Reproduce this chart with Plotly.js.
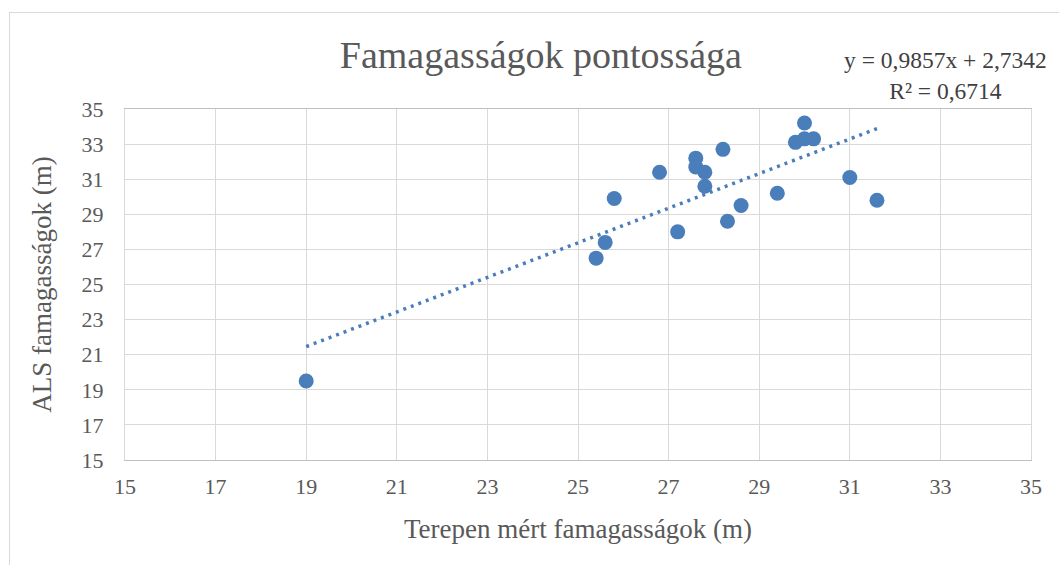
<!DOCTYPE html>
<html>
<head>
<meta charset="utf-8">
<script src="https://cdn.plot.ly/plotly-3.0.1.min.js"></script>
<style>
  html, body { margin: 0; padding: 0; background: #ffffff; }
  #frame { position: absolute; left: 9px; top: 12px; width: 1100px; height: 600px; border: 1px solid #d9d9d9; box-sizing: border-box; }
  #chart { position: absolute; left: 0; top: 0; width: 1059px; height: 565px; }
</style>
</head>
<body>
<div id="frame"></div>
<div id="chart"></div>
<script>
// Data
const terepenMert = [19.0, 25.4, 25.6, 25.8, 26.8, 27.2, 27.6, 27.6, 27.8, 27.8, 28.2, 28.3, 28.6, 29.4, 29.8, 30.0, 30.2, 30.0, 31.0, 31.6];
const alsMagassag = [19.5, 26.5, 27.4, 29.9, 31.4, 28.0, 32.2, 31.7, 31.4, 30.6, 32.7, 28.6, 29.5, 30.2, 33.1, 33.3, 33.3, 34.2, 31.1, 29.8];
const xTicks = [15, 17, 19, 21, 23, 25, 27, 29, 31, 33, 35];
const yTicks = [15, 17, 19, 21, 23, 25, 27, 29, 31, 33, 35];
const trendSlope = 0.9857;
const trendIntercept = 2.7342;
const trendText = "y = 0,9857x + 2,7342<br>R² = 0,6714";

const xMin = Math.min(...terepenMert);
const xMax = Math.max(...terepenMert);
const trendX = [xMin, xMax];
const trendY = trendX.map(v => trendSlope * v + trendIntercept);

const serif = "Liberation Serif";
const blue = "#4a7ebb";

const traces = [
  {
    x: trendX, y: trendY, type: "scatter", mode: "lines",
    line: { color: blue, width: 3.5, dash: "3px,5px" },
    hoverinfo: "skip", showlegend: false
  },
  {
    x: terepenMert, y: alsMagassag, type: "scatter", mode: "markers",
    marker: { color: blue, size: 15 },
    showlegend: false
  }
];

const axisCommon = {
  range: [15, 35],
  showgrid: true, gridcolor: "#d9d9d9", gridwidth: 1,
  zeroline: false,
  showline: true, linecolor: "#d9d9d9", linewidth: 1, mirror: true,
  ticks: "",
  tickfont: { family: serif, size: 22, color: "#595959" },
  fixedrange: true
};

const layout = {
  width: 1059, height: 565,
  margin: { l: 125, r: 28, t: 109, b: 105 },
  paper_bgcolor: "rgba(0,0,0,0)",
  plot_bgcolor: "rgba(0,0,0,0)",
  font: { family: serif },
  title: {
    text: "Famagasságok pontossága",
    font: { family: serif, size: 38, color: "#595959" },
    x: 0.459, xref: "paper", xanchor: "center",
    y: 0.903, yref: "container", yanchor: "middle"
  },
  xaxis: Object.assign({}, axisCommon, {
    linecolor: "#bfbfbf",
    tickvals: xTicks, ticktext: xTicks.map(String),
    ticklabelstandoff: 7,
    title: { text: "Terepen mért famagasságok (m)", font: { family: serif, size: 27, color: "#595959" }, standoff: 20 }
  }),
  yaxis: Object.assign({}, axisCommon, {
    tickvals: yTicks, ticktext: yTicks.map(String),
    ticklabelstandoff: 16,
    title: { text: "ALS famagasságok (m)", font: { family: serif, size: 27, color: "#595959" }, standoff: 22 }
  }),
  annotations: [
    {
      text: trendText, xref: "paper", yref: "paper",
      x: (945 - 125) / 906, y: (460 - 75) / 351,
      xanchor: "center", yanchor: "middle", align: "center",
      showarrow: false,
      font: { family: serif, size: 23.5, color: "#404040" }
    }
  ]
};

Plotly.newPlot("chart", traces, layout, { displayModeBar: false, staticPlot: true });
</script>
</body>
</html>
